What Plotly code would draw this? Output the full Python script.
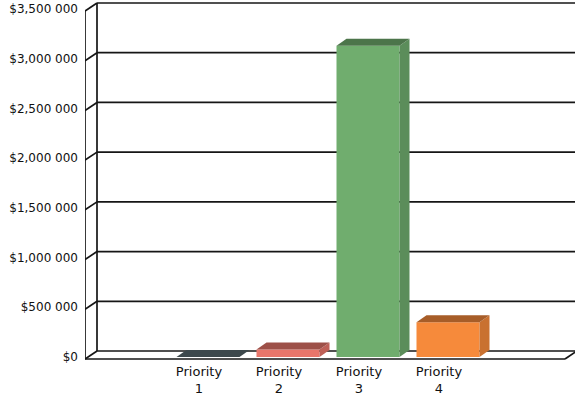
import plotly.graph_objects as go

# ---- data -------------------------------------------------------------
categories = ["Priority 1", "Priority 2", "Priority 3", "Priority 4"]
budget = [0, 75000, 3130000, 350000]
y_ticks = [0, 500000, 1000000, 1500000, 2000000, 2500000, 3000000, 3500000]
y_tick_labels = ["$0", "$500 000", "$1,000 000", "$1,500 000", "$2,000 000",
                 "$2,500 000", "$3,000 000", "$3,500 000"]
bar_colors = ["#5b6a70", "#e8766b", "#70ad6e", "#f68a3b"]

# ---- geometry ---------------------------------------------------------
W, H = 575, 399
M_L, M_R, M_T, M_B = 85, 0, 0, 38
plot_w = W - M_L - M_R
plot_h = H - M_T - M_B

n_slots = len(categories) + 2          # one empty slot each side
slot_px = 80
kx = 1.0 / slot_px                     # x data units per pixel
y_max = y_ticks[-1]
ky = y_max / 348.0                     # y data units per pixel

x_lo = -0.5
x_hi = x_lo + plot_w * kx
x_floor_end = x_lo + n_slots
y_lo = -2 * ky
y_hi = y_lo + plot_h * ky

# depth of floor / back wall
DX, DY = 12 * kx, 8 * ky
# bars sit a little behind the front edge, and have their own depth
BX, BY = 3 * kx, 2 * ky
TX, TY = 10 * kx, 7 * ky
bar_w = 63 * kx

positions = [i + 1 for i in range(len(categories))]


def shade(hex_color, f):
    h = hex_color.lstrip("#")
    r, g, b = (int(h[i:i + 2], 16) for i in (0, 2, 4))
    return "#%02x%02x%02x" % (int(r * f), int(g * f), int(b * f))


line_style = dict(color="#161616", width=1.7)
shapes = []

# back wall gridlines with connectors to the front axis
for v in y_ticks:
    shapes.append(dict(type="line", xref="x", yref="y", layer="below",
                       x0=x_lo + DX, y0=v + DY, x1=x_floor_end + DX, y1=v + DY,
                       line=line_style))
    shapes.append(dict(type="line", xref="x", yref="y", layer="below",
                       x0=x_lo, y0=v, x1=x_lo + DX, y1=v + DY, line=line_style))

# back wall left edge and front value axis
shapes.append(dict(type="line", xref="x", yref="y", layer="below",
                   x0=x_lo + DX, y0=DY, x1=x_lo + DX, y1=y_max + DY, line=line_style))
shapes.append(dict(type="line", xref="x", yref="y", layer="below",
                   x0=x_lo, y0=0, x1=x_lo, y1=y_max, line=line_style))
# floor front edge and right edge
shapes.append(dict(type="line", xref="x", yref="y", layer="below",
                   x0=x_lo, y0=0, x1=x_floor_end, y1=0, line=line_style))
shapes.append(dict(type="line", xref="x", yref="y", layer="below",
                   x0=x_floor_end, y0=0, x1=x_floor_end + DX, y1=DY, line=line_style))

# top and side faces of the bars
for p, v, c in zip(positions, budget, bar_colors):
    xl = p - bar_w / 2 + BX
    xr = p + bar_w / 2 + BX
    yb = BY
    yt = BY + v
    top = (f"M {xl},{yt} L {xr},{yt} L {xr + TX},{yt + TY} "
           f"L {xl + TX},{yt + TY} Z")
    side = (f"M {xr},{yb} L {xr},{yt} L {xr + TX},{yt + TY} "
            f"L {xr + TX},{yb + TY} Z")
    shapes.append(dict(type="path", xref="x", yref="y", layer="above",
                       path=side, fillcolor=shade(c, 0.82), line=dict(width=0)))
    shapes.append(dict(type="path", xref="x", yref="y", layer="above",
                       path=top, fillcolor=shade(c, 0.68), line=dict(width=0)))

fig = go.Figure()
fig.add_trace(go.Bar(
    x=positions,
    y=budget,
    base=BY,
    width=bar_w,
    offset=-bar_w / 2 + BX,
    marker=dict(color=bar_colors, line=dict(width=0)),
    hoverinfo="skip",
    showlegend=False,
))

fig.update_layout(
    width=W, height=H,
    margin=dict(l=M_L, r=M_R, t=M_T, b=M_B, pad=0),
    paper_bgcolor="white",
    plot_bgcolor="white",
    shapes=shapes,
    showlegend=False,
    xaxis=dict(
        range=[x_lo, x_hi],
        tickvals=positions,
        ticktext=[c.replace(" ", "<br>") for c in categories],
        tickfont=dict(family="DejaVu Sans", size=13, color="#111111"),
        ticklabelshift=-6,
        ticklabelstandoff=1,
        showgrid=False, zeroline=False, showline=False, ticks="",
        fixedrange=True,
    ),
    yaxis=dict(
        range=[y_lo, y_hi],
        tickvals=y_ticks,
        ticktext=y_tick_labels,
        tickfont=dict(family="DejaVu Sans", size=12, color="#111111"),
        ticklabelstandoff=6,
        ticklabelshift=-2,
        showgrid=False, zeroline=False, showline=False, ticks="",
        fixedrange=True,
    ),
)

fig.write_html("out.html")
